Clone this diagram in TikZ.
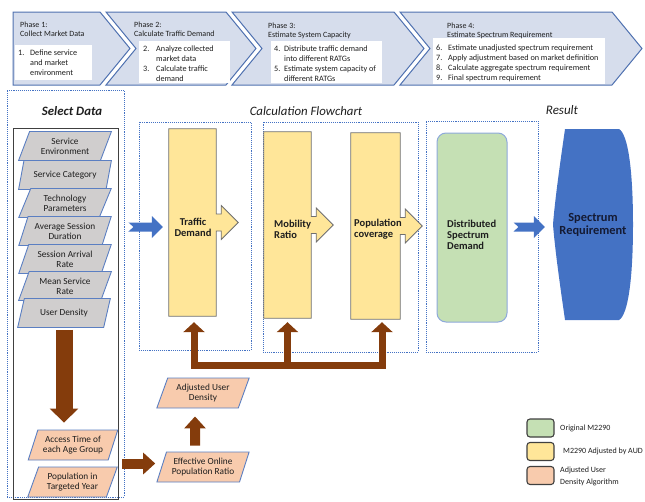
\documentclass[tikz,border=0pt]{standalone}
\usepackage{fontspec}
\setmainfont{Carlito}
\usetikzlibrary{shapes.geometric,arrows.meta,calc}

\definecolor{chevfill}{HTML}{D6DDEC}
\definecolor{chevline}{HTML}{4F71B0}
\definecolor{txtc}{HTML}{1E1E1E}
\definecolor{grayfill}{HTML}{D0CECE}
\definecolor{paraedge}{HTML}{5B7FC2}
\definecolor{orangefill}{HTML}{F8CBAD}
\definecolor{yellowfill}{HTML}{FFE699}
\definecolor{yedge}{HTML}{6F6F6F}
\definecolor{greenfill}{HTML}{C5E0B4}
\definecolor{greenedge}{HTML}{8EA9DB}
\definecolor{bluefill}{HTML}{4472C4}
\definecolor{dotblue}{HTML}{4472C4}
\definecolor{brownA}{HTML}{843C0C}
\definecolor{innergray}{HTML}{404040}
\definecolor{srtext}{HTML}{141A33}

% numbered list inside the phase banners
\newcommand\steplist[2]{\begin{tabular}[t]{@{}p{#1}@{}l@{}}#2\end{tabular}}
\newcommand\twolines[1]{\begin{tabular}[t]{@{}l@{}}#1\end{tabular}}

% yellow block with a block arrow on its right side
\newcommand\ycallout[1]{%
  \draw[draw=yedge, line width=0.8pt, fill=yellowfill, line join=miter]
    (#1.north west) -- (#1.north east) -- ($(#1.east)+(0,-8.5)$) -- ++(5,0) -- ++(0,-8.5)
    -- ($(#1.east)+(22,0)$) -- ($(#1.east)+(5,17)$) -- ++(0,-8.5) -- ($(#1.east)+(0,8.5)$)
    -- (#1.south east) -- (#1.south west) -- cycle;}

% blue block arrow with a notched tail, horizontal from #1 to #2
\newcommand\bluearrow[2]{%
  \fill[bluefill] let \p1=(#1), \p2=(#2) in
    (\x1,\y1+4.5pt) -- (\x2-11pt,\y1+4.5pt) -- (\x2-11pt,\y1+11pt) -- (\x2,\y1)
    -- (\x2-11pt,\y1-11pt) -- (\x2-11pt,\y1-4.5pt) -- (\x1,\y1-4.5pt) -- (\x1+5pt,\y1) -- cycle;}

\begin{document}
\begin{tikzpicture}[x=1pt,y=-1pt,
  chev/.style={fill=chevfill, draw=chevline, line width=1pt, line join=miter},
  txt/.style={inner sep=0pt, text=txtc, font=\fontsize{8.2}{10}\selectfont},
  ttl/.style={inner sep=0pt, text=txtc, font=\fontsize{8}{9}\selectfont},
  para/.style={trapezium, trapezium left angle=67, trapezium right angle=113,
    trapezium stretches=true, draw=paraedge, line width=0.9pt, inner sep=1pt,
    align=center, text=txtc, font=\fontsize{9.3}{10}\selectfont,
    minimum width=93pt, minimum height=29pt},
  graypara/.style={para, fill=grayfill},
  orpara/.style={para, fill=orangefill},
  dotbox/.style={draw=dotblue, densely dotted, line width=0.9pt, inner sep=0pt},
  yrect/.style={inner sep=0pt, minimum width=#1},
  ylabel/.style={inner sep=0pt, text=txtc, align=left, font=\fontsize{10.5}{11}\selectfont\bfseries},
  legbox/.style={draw=innergray, line width=1.1pt, rounded corners=3pt, minimum width=27pt, minimum height=18pt, inner sep=0pt},
  legtxt/.style={inner sep=0pt, text=txtc, align=left, font=\fontsize{8}{12.5}\selectfont},
  brownbig/.style={draw=brownA, line width=17pt, -{Triangle[width=28pt,length=14pt]}},
  brownmid/.style={draw=brownA, line width=10pt, -{Triangle[width=21pt,length=12pt]}},
  browntee/.style={draw=brownA, line width=7pt, line join=miter}
]
\useasboundingbox (0,0) rectangle (645,501);

% ---------- phase banner ----------
\draw[chev] (13,12) -- (100,12) -- (130,48.5) -- (100,85) -- (13,85) -- cycle;
\draw[chev] (106,12) -- (226,12) -- (256,48.5) -- (226,85) -- (106,85) -- (136,48.5) -- cycle;
\draw[chev] (232,12) -- (394,12) -- (424,48.5) -- (394,85) -- (232,85) -- (262,48.5) -- cycle;
\draw[chev] (400,12) -- (612,12) -- (642,48.5) -- (612,85) -- (400,85) -- (430,48.5) -- cycle;

\fill[white] (15,45) rectangle (92,80);
\fill[white] (139,41) rectangle (230,83);
\fill[white] (271,41) rectangle (382,83);
\fill[white] (433,38) rectangle (605,84);

\node[ttl, anchor=base west] (p1t) at (20,27) {\twolines{Phase 1:\\Collect Market Data}};
\node[ttl, anchor=base west] (p2t) at (134,27) {\twolines{Phase 2:\\Calculate Traffic Demand}};
\node[ttl, anchor=base west] (p3t) at (268,28) {\twolines{Phase 3:\\Estimate System Capacity}};
\node[ttl, anchor=base west] (p4t) at (447,28) {\twolines{Phase 4:\\Estimate Spectrum Requirement}};

\node[txt, anchor=base west] (p1i) at (18,55) {\steplist{12pt}{1. & Define service\\ & and market\\ & environment}};
\node[txt, anchor=base west] (p2i) at (143,51) {\steplist{13pt}{2. & Analyze collected\\ & market data\\ 3. & Calculate traffic\\ & demand}};
\node[txt, anchor=base west] (p3i) at (274,51) {\steplist{10pt}{4. & Distribute traffic demand\\ & into different RATGs\\ 5. & Estimate system capacity of\\ & different RATGs}};
\node[txt, anchor=base west] (p4i) at (436,50) {\steplist{12pt}{6. & Estimate unadjusted spectrum requirement\\ 7. & Apply adjustment based on market definition\\ 8. & Calculate aggregate spectrum requirement\\ 9. & Final spectrum requirement}};

% ---------- section titles ----------
\node[inner sep=0pt, text=txtc, font=\fontsize{12.8}{14}\selectfont\bfseries\itshape] (tsel) at (72,111) {Select Data};
\node[inner sep=0pt, text=txtc, font=\fontsize{12.8}{14}\selectfont\itshape] (tcalc) at (306,111) {Calculation Flowchart};
\node[inner sep=0pt, text=txtc, font=\fontsize{13}{14}\selectfont\itshape] (tres) at (562,110) {Result};

% ---------- select data column ----------
\node[dotbox, minimum width=117pt, minimum height=407pt] (sel) at (65.5,293.5) {};
\node[draw=innergray, line width=0.8pt, inner sep=0pt, minimum width=105pt, minimum height=371pt] (inner) at (65.5,313.5) {};

\node[graypara] (se) at (65,146) {Service\\Environment};
\node[graypara] (sc) at (65,175) {Service Category};
\node[graypara] (tp) at (65,203) {Technology\\Parameters};
\node[graypara] (asd) at (65,231) {Average Session\\Duration};
\node[graypara] (sar) at (65,259) {Session Arrival\\Rate};
\node[graypara] (msr) at (65,286) {Mean Service\\Rate};
\node[graypara] (ud) at (64,313) {User Density};

\node[orpara, minimum width=90pt, minimum height=30pt] (at) at (73,445) {Access Time of\\each Age Group};
\node[orpara, minimum width=90pt, minimum height=30pt] (pop) at (72.5,482) {Population in\\Targeted Year};
\node[orpara, minimum height=30pt] (eff) at (203,467) {Effective Online\\Population Ratio};
\node[orpara, minimum height=30pt] (adj) at (203,393) {Adjusted User\\Density};

% ---------- calculation flowchart ----------
\node[dotbox, minimum width=112pt, minimum height=228pt] (boxa) at (195,236) {};
\node[dotbox, minimum width=155pt, minimum height=230pt] (boxb) at (340.5,237) {};
\node[dotbox, minimum width=112pt, minimum height=231pt] (boxc) at (482,236.5) {};

\node[yrect=47pt, minimum height=187pt] (td) at (192.5,222.5) {};
\ycallout{td}
\node[yrect=47pt, minimum height=186pt] (mr) at (287.5,225) {};
\ycallout{mr}
\node[yrect=49pt, minimum height=186pt] (pc) at (375.5,226) {};
\ycallout{pc}

\node[ylabel, align=center] (tdl) at (193,227.5) {Traffic\\Demand};
\node[ylabel, anchor=west] (mrl) at (274,229) {Mobility\\Ratio};
\node[ylabel, anchor=west] (pcl) at (354,229) {Population\\coverage};

\node[draw=greenedge, line width=1pt, fill=greenfill, rounded corners=9pt,
      minimum width=70pt, minimum height=189pt, inner sep=0pt] (dsd) at (472,227.5) {};
\node[ylabel, anchor=west] (dsdl) at (447,234.5) {Distributed\\Spectrum\\Demand};

% ---------- result ----------
\node[inner sep=0pt, minimum width=80pt, minimum height=191pt] (sr) at (593,224.5) {};
\fill[bluefill] (565,129) -- (619,129) .. controls (628,134) and (633,170) .. (633,224.5)
   .. controls (633,279) and (628,315) .. (619,320) -- (565,320)
   .. controls (560,285) and (555,250) .. (553,224.5)
   .. controls (555,199) and (560,164) .. (565,129) -- cycle;
\node[inner sep=0pt, align=center, text=srtext, font=\fontsize{12.4}{13}\selectfont\bfseries] (srl) at (sr.center) {Spectrum\\Requirement};

% ---------- blue flow arrows ----------
\coordinate (ba1) at ([xshift=4pt]sel.east |- 0,227);
\coordinate (ba2) at ([xshift=-6pt]td.west |- ba1);
\bluearrow{ba1}{ba2}
\coordinate (ba3) at ([xshift=6pt]dsd.east |- 0,227);
\coordinate (ba4) at ([xshift=-8pt]sr.west |- ba3);
\bluearrow{ba3}{ba4}

% ---------- brown adjustment arrows ----------
\draw[brownbig] ([yshift=-2pt]ud.south) -- ([yshift=7pt]ud.south |- at.north);
\coordinate (mid) at ($(at.south)!0.5!(pop.north)$);
\draw[brownmid] ([xshift=4pt]inner.east |- mid) -- ([xshift=-6pt]eff.west |- mid);
\draw[brownmid] ([xshift=-8pt,yshift=6pt]eff.north) -- ([xshift=-8pt,yshift=-8pt]adj.south);

\coordinate (tb) at (0,365);
\draw[browntee, {Triangle[width=21pt,length=10pt]}-{Triangle[width=21pt,length=10pt]}]
  ([xshift=1.5pt,yshift=-6pt]td.south) -- ([xshift=1.5pt]td.south |- tb)
  -- ([xshift=6.5pt]pc.south |- tb) -- ([xshift=6.5pt,yshift=-3pt]pc.south);
\draw[browntee, -{Triangle[width=21pt,length=10pt]}] (mr.south |- tb) -- ([yshift=-4pt]mr.south);

% ---------- legend ----------
\node[legbox, fill=greenfill] (lg1) at (540.5,428) {};
\node[legbox, fill=yellowfill] (lg2) at (540.5,451.5) {};
\node[legbox, fill=orangefill] (lg3) at (540.5,475.5) {};
\node[legtxt, anchor=west] (lg1t) at (560,428) {Original M2290};
\node[legtxt, anchor=west] (lg2t) at (563,451.5) {M2290 Adjusted by AUD};
\node[legtxt, anchor=west] (lg3t) at (560,476.5) {Adjusted User\\Density Algorithm};
\end{tikzpicture}
\end{document}
